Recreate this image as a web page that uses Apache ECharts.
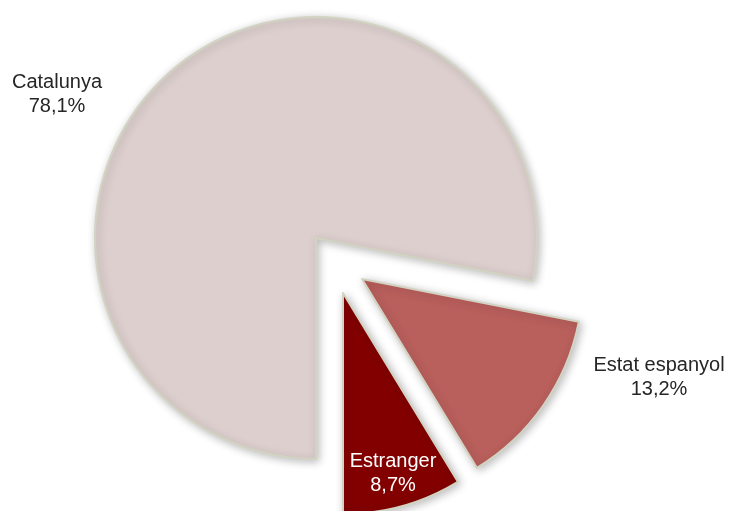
<!DOCTYPE html>
<html>
<head>
<meta charset="utf-8">
<script src="https://cdn.jsdelivr.net/npm/echarts@6/dist/echarts.min.js"></script>
<style>
html,body{margin:0;padding:0;background:#fff;}
#chart{width:732px;height:511px;}
</style>
</head>
<body>
<div id="chart"></div>
<script>
const categories = ['Catalunya', 'Estat espanyol', 'Estranger'];
const values = [78.1, 13.2, 8.7];
const sliceColors = ['#dccfcd', '#b95f5c', '#820000'];
const labelColors = ['#262626', '#262626', '#ffffff'];

// layout (not data): explosion shift of each slice and label anchors
const explodeShift = [[0, 0], [46, 41], [27, 55]];
const labelPlaces = [
  { x: 57, y: 94 },
  { x: 659, y: 377 },
  { x: 393, y: 473 }
];

const chart = echarts.init(document.getElementById('chart'));
const fmt = v => v.toFixed(1).replace('.', ',') + '%';
const pieCenter = [316, 238];
const pieRadius = 221;

const sliceSeries = categories.map((_, k) => ({
  type: 'pie',
  center: [pieCenter[0] + explodeShift[k][0], pieCenter[1] + explodeShift[k][1]],
  radius: pieRadius,
  startAngle: -90,
  clockwise: true,
  silent: true,
  selectedMode: false,
  avoidLabelOverlap: false,
  label: { show: false },
  labelLine: { show: false },
  emphasis: { disabled: true },
  z: 2,
  data: categories.map((c, i) => ({
    name: c,
    value: values[i],
    itemStyle: i === k ? {
      color: sliceColors[i],
      borderColor: '#d2d3c2',
      borderWidth: 2,
      shadowBlur: 8,
      shadowColor: 'rgba(0,0,0,0.25)',
      shadowOffsetX: 2,
      shadowOffsetY: 2
    } : { color: 'rgba(0,0,0,0)', borderWidth: 0 }
  }))
}));

chart.setOption({
  animation: false,
  backgroundColor: '#ffffff',
  series: sliceSeries.concat([{
    type: 'pie',
    center: pieCenter,
    radius: pieRadius,
    startAngle: -90,
    clockwise: true,
    silent: true,
    selectedMode: false,
    avoidLabelOverlap: false,
    z: 5,
    labelLine: { show: false },
    itemStyle: { color: 'rgba(0,0,0,0)', borderWidth: 0 },
    label: {
      show: true,
      position: 'outside',
      fontFamily: 'Liberation Sans, Arial, sans-serif',
      fontSize: 20,
      lineHeight: 24,
      align: 'center',
      formatter: p => p.name + '\n' + fmt(p.value)
    },
    labelLayout: p => ({
      x: labelPlaces[p.dataIndex].x,
      y: labelPlaces[p.dataIndex].y,
      align: 'center',
      verticalAlign: 'middle'
    }),
    emphasis: { disabled: true },
    data: categories.map((c, i) => ({
      name: c,
      value: values[i],
      label: { color: labelColors[i] }
    }))
  }])
});
</script>
</body>
</html>
